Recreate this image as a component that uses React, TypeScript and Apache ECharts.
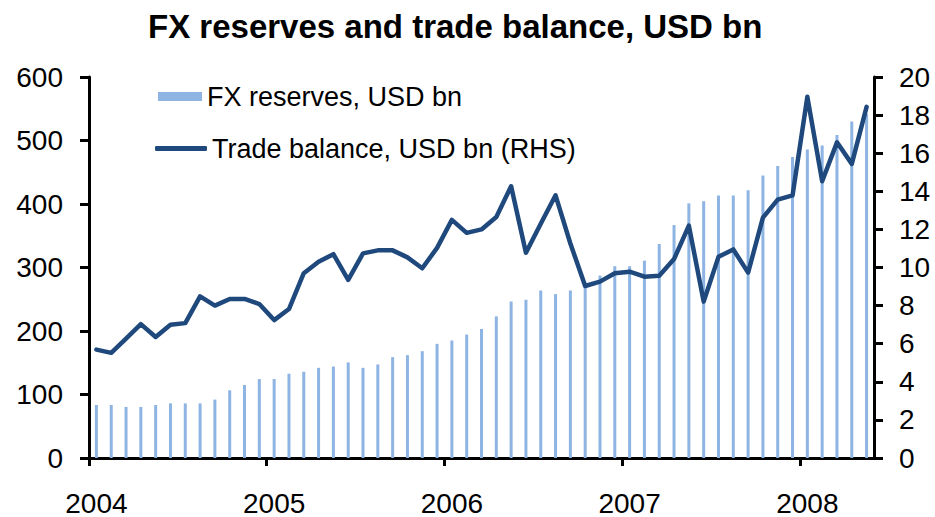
import React, { useEffect, useRef } from "react";
import * as echarts from "echarts";

const title = "FX reserves and trade balance, USD bn";
const years = ["2004", "2005", "2006", "2007", "2008"];
const monthsInLastYear = 5;
const categories: string[] = [];
years.forEach((y, yi) => {
  const n = yi === years.length - 1 ? monthsInLastYear : 12;
  for (let m = 1; m <= n; m++) categories.push(`${y}-${m < 10 ? "0" + m : m}`);
});
const yearTickIndices = years.map((_, i) => i * 12);

const fxReserves = [
  83.5, 83.5, 80.4, 80.4, 83.5, 86, 86, 86, 92, 106.6, 115, 124.3,
  124.3, 132.7, 135.8, 142, 144, 150.5, 142, 147.3, 158.8, 162, 168.2, 179.8,
  185, 194.4, 203.2, 223, 246.6, 249.2, 263.8, 258.1, 263.8, 272, 287.3, 302,
  302, 310.8, 337, 366.8, 401, 404.4, 413.3, 413.3, 421.6, 445, 459.7, 473.9,
  485.9, 492, 508.8, 529.8, 541.8,
];

const tradeBalance = [
  5.69, 5.52, 6.27, 7.03, 6.35, 7.0, 7.08, 8.48, 8.0, 8.35, 8.35, 8.08,
  7.24, 7.82, 9.7, 10.3, 10.7, 9.35, 10.74, 10.9, 10.9, 10.53, 9.96, 11.03,
  12.5, 11.82, 12.0, 12.65, 14.26, 10.77, 12.3, 13.79, 11.26, 9.03, 9.26, 9.7,
  9.78, 9.52, 9.57, 10.44, 12.2, 8.21, 10.56, 10.95, 9.73, 12.62, 13.56, 13.79,
  18.96, 14.53, 16.57, 15.44, 18.43,
];

const fxName = "FX reserves, USD bn";
const tbName = "Trade balance, USD bn (RHS)";

const FONT = "'Liberation Sans', Arial, sans-serif";
const BAR_COLOR = "#8DB4E2";
const LINE_COLOR = "#1F497D";

export default function App() {
  const ref = useRef<HTMLDivElement>(null);
  useEffect(() => {
    if (!ref.current) return;
    const chart = echarts.init(ref.current, undefined, { renderer: "svg" });
    const axisLine = { show: true, lineStyle: { color: "#000", width: 3 } };
    const axisTick = { show: true, inside: false, length: 9, lineStyle: { color: "#000", width: 3 } };
    chart.setOption({
      animation: false,
      backgroundColor: "#fff",
      title: {
        text: title,
        left: 143,
        top: 5,
        textStyle: { fontFamily: FONT, fontSize: 33, fontWeight: "bold", color: "#000" },
      },
      legend: [
        {
          data: [{ name: fxName, icon: "rect" }],
          left: 153,
          top: 78,
          itemWidth: 44,
          itemHeight: 9,
          textStyle: { fontFamily: FONT, fontSize: 27, color: "#000" },
        },
        {
          data: [{ name: tbName, icon: "roundRect" }],
          left: 150,
          top: 130,
          itemWidth: 52,
          itemHeight: 5,
          textStyle: { fontFamily: FONT, fontSize: 27, color: "#000" },
        },
      ],
      grid: { left: 89, right: 61, top: 77, bottom: 58, containLabel: false },
      xAxis: [
        {
          type: "category",
          data: categories,
          boundaryGap: true,
          axisLine,
          axisTick: { show: false },
          axisLabel: {
            interval: (i: number) => i % 12 === 0,
            formatter: (v: string) => v.slice(0, 4),
            margin: 31,
            fontFamily: FONT,
            fontSize: 28,
            color: "#000",
          },
          splitLine: { show: false },
        },
        {
          type: "value",
          min: 0,
          max: categories.length,
          position: "bottom",
          axisLine: { show: false },
          axisTick: { ...axisTick, length: 8, customValues: yearTickIndices },
          axisLabel: { show: false },
          splitLine: { show: false },
        },
      ],
      yAxis: [
        {
          type: "value",
          min: 0,
          max: 600,
          interval: 100,
          position: "left",
          axisLine,
          axisTick,
          axisLabel: { margin: 26, fontFamily: FONT, fontSize: 28, color: "#000" },
          splitLine: { show: false },
        },
        {
          type: "value",
          min: 0,
          max: 20,
          interval: 2,
          position: "right",
          axisLine,
          axisTick,
          axisLabel: { margin: 25, fontFamily: FONT, fontSize: 28, color: "#000" },
          splitLine: { show: false },
        },
      ],
      series: [
        {
          name: fxName,
          type: "bar",
          xAxisIndex: 0,
          yAxisIndex: 0,
          data: fxReserves,
          barWidth: 3,
          itemStyle: { color: BAR_COLOR },
        },
        {
          name: tbName,
          type: "line",
          xAxisIndex: 0,
          yAxisIndex: 1,
          data: tradeBalance,
          symbol: "none",
          lineStyle: { color: LINE_COLOR, width: 4.5, join: "round", cap: "round" },
          itemStyle: { color: LINE_COLOR },
        },
      ],
    });
    return () => chart.dispose();
  }, []);
  return (
    <div
      ref={ref}
      style={{ position: "fixed", left: 0, top: 0, width: 935, height: 517, background: "#fff" }}
    />
  );
}
